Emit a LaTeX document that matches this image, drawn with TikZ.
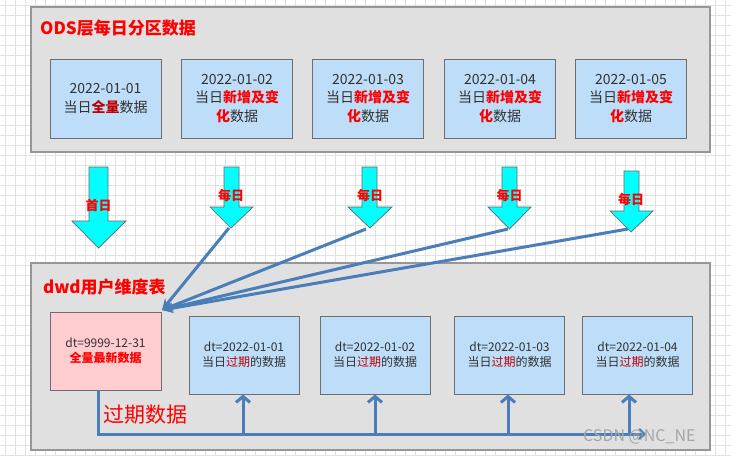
\documentclass[tikz,border=0pt]{standalone}
\usepackage{fontspec}
\setmainfont{Noto Sans CJK SC}
\usetikzlibrary{arrows.meta}
\definecolor{gridc}{RGB}{226,226,226}
\definecolor{contfill}{RGB}{224,224,224}
\definecolor{contdraw}{RGB}{150,150,150}
\definecolor{boxfill}{RGB}{189,221,249}
\definecolor{boxdraw}{RGB}{110,110,110}
\definecolor{pinkfill}{RGB}{255,204,208}
\definecolor{txt}{RGB}{50,50,50}
\definecolor{dred}{RGB}{192,0,0}
\definecolor{linec}{RGB}{74,126,187}
\definecolor{cyanc}{RGB}{0,255,255}
\tikzset{
  container/.style={draw=contdraw, fill=contfill, line width=1.2pt, inner sep=0pt},
  title/.style={anchor=west, text=red, font=\fontsize{17}{20}\selectfont\bfseries, inner sep=0pt},
  tbox/.style={draw=boxdraw, fill=boxfill, line width=0.9pt, minimum width=111pt, minimum height=79pt, align=center, text=txt, font=\fontsize{14}{18.5}\selectfont, inner sep=0pt},
  bbox/.style={draw=boxdraw, fill=boxfill, line width=0.9pt, minimum width=110pt, minimum height=78pt, align=center, text=txt, font=\fontsize{12}{15}\selectfont, inner sep=0pt},
  pbox/.style={bbox, fill=pinkfill, minimum width=111pt},
  bigarrow/.style={draw=gray!80!black, fill=cyanc, line width=0.7pt},
  alabel/.style={text=red, font=\fontsize{13}{15}\selectfont\bfseries, inner sep=0pt},
  conn/.style={draw=linec, line width=3pt},
  inarrow/.style={conn, -{Stealth[length=11pt,width=10pt]}},
  uparrow/.style={conn, -{Straight Barb[length=6pt,width=14pt,line width=3pt]}},
}
\begin{document}
\begin{tikzpicture}[x=1pt,y=-1pt]
\useasboundingbox (0,0) rectangle (731,456);
\fill[white] (0,0) rectangle (731,456);
\foreach \g in {5,15,...,725} \draw[gridc, line width=0.7pt] (\g,0) -- (\g,456);
\foreach \g in {5,15,...,455} \draw[gridc, line width=0.7pt] (0,\g) -- (731,\g);

% top container
\node[container, minimum width=679pt, minimum height=145pt] (ods) at (370.5,79.5) {};
\node[title] (odst) at (40,28) {ODS层每日分区数据};
\node[tbox] (o1) at (105.5,98.5) {2022-01-01\\当日\textcolor{dred}{\bfseries 全量}数据};
\node[tbox] (o2) at (237,98.5) {2022-01-02\\当日\textcolor{red}{\bfseries 新增及变}\\\textcolor{red}{\bfseries 化}数据};
\node[tbox] (o3) at (368,98.5) {2022-01-03\\当日\textcolor{red}{\bfseries 新增及变}\\\textcolor{red}{\bfseries 化}数据};
\node[tbox] (o4) at (500,98.5) {2022-01-04\\当日\textcolor{red}{\bfseries 新增及变}\\\textcolor{red}{\bfseries 化}数据};
\node[tbox] (o5) at (631,98.5) {2022-01-05\\当日\textcolor{red}{\bfseries 新增及变}\\\textcolor{red}{\bfseries 化}数据};

% cyan block arrows
\draw[bigarrow] (89,167) -- (108,167) -- (108,221) -- (126,221) -- (98.5,248) -- (72,221) -- (89,221) -- cycle;
\draw[bigarrow] (224,167) -- (239,167) -- (239,207) -- (253,207) -- (231,228) -- (210,207) -- (224,207) -- cycle;
\draw[bigarrow] (362,167) -- (377,167) -- (377,207) -- (392,207) -- (370,228) -- (348,207) -- (362,207) -- cycle;
\draw[bigarrow] (502,167) -- (517,167) -- (517,207) -- (531,207) -- (509.5,229) -- (488,207) -- (502,207) -- cycle;
\draw[bigarrow] (624,171) -- (639,171) -- (639,211) -- (653,211) -- (631,232) -- (610,211) -- (624,211) -- cycle;
\node[alabel] (l1) at (98.5,205) {首日};
\node[alabel] (l2) at (231,196) {每日};
\node[alabel] (l3) at (370,196) {每日};
\node[alabel] (l4) at (509.5,196) {每日};
\node[alabel] (l5) at (631,200) {每日};
\coordinate (t2) at (229,228);
\coordinate (t3) at (366,229);
\coordinate (t4) at (508,229);
\coordinate (t5) at (628,229);

% bottom container
\node[container, minimum width=679pt, minimum height=187pt] (dwd) at (370.5,356.5) {};
\node[title] (dwdt) at (43,287) {dwd用户维度表};
\node[pbox] (p) at (105.5,351) {dt=9999-12-31\\\textcolor{red}{\bfseries 全量最新数据}};
\node[bbox] (b1) at (244,355) {dt=2022-01-01\\当日\textcolor{dred}{过期}的数据};
\node[bbox] (b2) at (375,355) {dt=2022-01-02\\当日\textcolor{dred}{过期}的数据};
\node[bbox] (b3) at (509.5,355) {dt=2022-01-03\\当日\textcolor{dred}{过期}的数据};
\node[bbox] (b4) at (637.5,355) {dt=2022-01-04\\当日\textcolor{dred}{过期}的数据};

% incoming lines
\coordinate (pin) at (162,310);
\draw[inarrow] (t2) -- (pin);
\draw[inarrow] (t3) -- (pin);
\draw[inarrow] (t4) -- (pin);
\draw[inarrow] (t5) -- (pin);

% expired data flow
\coordinate (c0) at (98,434);
\coordinate (c1) at (243,434);
\coordinate (c2) at (375,434);
\coordinate (c3) at (508,434);
\coordinate (c4) at (629,434);
\coordinate (cend) at (646,434);
\draw[conn, -{Straight Barb[length=5pt,width=10pt,line width=2.5pt]}] (p.south -| c0) -- (c0) -- (cend);
\draw[uparrow] (c1) -- (c1 |- b1.south);
\draw[uparrow] (c2) -- (c2 |- b2.south);
\draw[uparrow] (c3) -- (c3 |- b3.south);
\draw[uparrow] (c4) -- (c4 |- b4.south);
\node[anchor=west, text=red, font=\fontsize{21}{24}\selectfont, inner sep=0pt] (exp) at (103,415) {过期数据};

\node[anchor=west, text=gray!70, font=\fontsize{16}{18}\selectfont, inner sep=0pt] (wm) at (583,437) {CSDN @NC\_NE};
\end{tikzpicture}
\end{document}
